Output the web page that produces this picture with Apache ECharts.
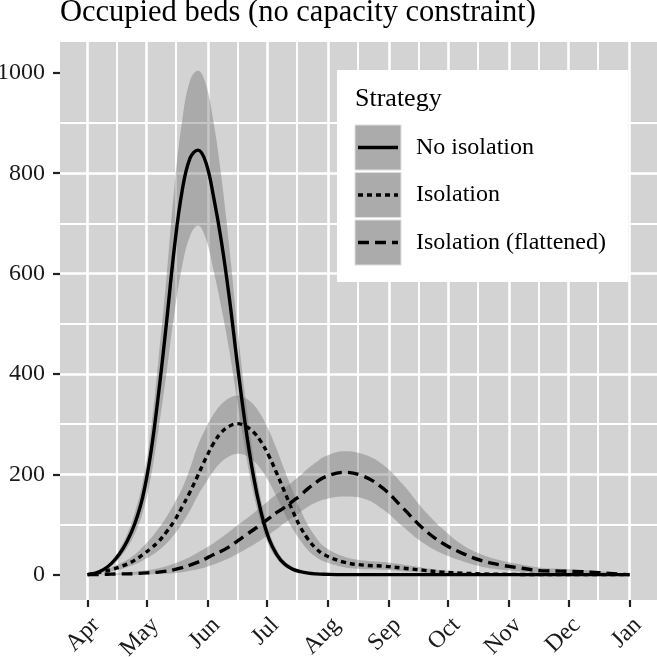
<!DOCTYPE html>
<html>
<head>
<meta charset="utf-8">
<title>Occupied beds</title>
<script src="https://cdn.jsdelivr.net/npm/echarts@6/dist/echarts.min.js"></script>
<style>
  html, body { margin: 0; padding: 0; background: #fff; }
  #chart { width: 657px; height: 657px; }
</style>
</head>
<body>
<div id="chart"></div>
<script>
// days since 1 April 2020
const days = [0, 4, 8, 12, 16, 20, 24, 28, 32, 36, 40, 44, 48, 52, 56, 60, 64, 68, 72, 76,
  80, 84, 88, 92, 96, 100, 104, 108, 112, 116, 120,
  130, 140, 150, 160, 170, 180, 190, 200, 210, 220, 230, 240, 250, 260, 270, 275];

// No isolation
const noIsoMean = [0, 3, 10, 22, 40, 66, 102, 155, 240, 360, 500, 650, 765, 830, 846, 822, 752, 662, 550, 420,
  300, 200, 125, 72, 40, 21, 11, 6, 3, 1.5, 0.8,
  0, 0, 0, 0, 0, 0, 0, 0, 0, 0, 0, 0, 0, 0, 0, 0];
const noIsoLow = [0, 2, 8, 17, 32, 53, 82, 124, 192, 290, 400, 520, 615, 675, 696, 670, 605, 530, 445, 345,
  248, 165, 103, 58, 32, 16, 9, 4, 2, 1, 0.5,
  0, 0, 0, 0, 0, 0, 0, 0, 0, 0, 0, 0, 0, 0, 0, 0];
const noIsoHigh = [0, 4, 12, 26, 49, 80, 124, 185, 285, 430, 590, 770, 905, 985, 1004, 978, 900, 790, 650, 495,
  355, 240, 150, 88, 50, 27, 15, 8, 4, 2, 1,
  0, 0, 0, 0, 0, 0, 0, 0, 0, 0, 0, 0, 0, 0, 0, 0];

// Isolation
const isoMean = [0, 3, 6, 10, 15, 21, 29, 40, 52, 66, 85, 107, 135, 165, 198, 232, 262, 284, 296, 301,
  296, 285, 265, 237, 202, 165, 128, 95, 70, 52, 40,
  25, 19, 17, 13, 9, 5, 3, 1.5, 0.8, 0.4, 0.2, 0, 0, 0, 0, 0];
const isoLow = [0, 2, 4, 7, 10, 15, 20, 28, 37, 48, 62, 80, 102, 128, 158, 183, 207, 225, 236, 241,
  238, 228, 210, 185, 155, 122, 92, 68, 48, 35, 26,
  15, 11, 10, 7, 4, 2, 1, 0.5, 0, 0, 0, 0, 0, 0, 0, 0];
const isoHigh = [0, 4, 8, 14, 21, 29, 40, 55, 72, 92, 115, 142, 172, 212, 258, 292, 320, 340, 352, 357,
  352, 340, 318, 288, 250, 208, 168, 130, 98, 74, 56,
  36, 28, 25, 20, 14, 9, 5, 3, 1.5, 1, 0.5, 0, 0, 0, 0, 0];

// Isolation (flattened)
const flatMean = [0, 0, 0.5, 1, 1.5, 1.5, 2, 3, 4, 5, 7, 10, 14, 19, 25, 32, 40, 47, 56, 67,
  78, 89, 100, 112, 124, 134, 146, 158, 172, 184, 194,
  204, 196, 172, 133, 93, 63, 43, 28, 19, 13, 8, 7, 6, 4, 1, 0];
const flatLow = [0, 0, 0, 0, 0, 0, 0, 0.5, 1, 1.5, 2, 3, 5, 8, 11, 15, 20, 26, 33, 41,
  50, 59, 69, 80, 91, 103, 114, 125, 136, 144, 150,
  156, 152, 130, 96, 64, 42, 27, 16, 10, 6, 3, 2, 2, 1, 0, 0];
const flatHigh = [0, 0.5, 1, 2, 3, 4, 6, 8, 10, 13, 17, 22, 28, 35, 44, 53, 63, 74, 86, 98,
  110, 122, 135, 148, 160, 172, 185, 198, 212, 224, 235,
  246, 240, 219, 180, 132, 92, 60, 40, 28, 20, 14, 12, 10, 7, 2, 0];

const strategies = ['No isolation', 'Isolation', 'Isolation (flattened)'];
const monthLabels = ['Jan', 'Feb', 'Mar', 'Apr', 'May', 'Jun', 'Jul', 'Aug', 'Sep', 'Oct', 'Nov', 'Dec'];
const yTicks = [0, 200, 400, 600, 800, 1000];

const font = '"Liberation Serif", "Times New Roman", "DejaVu Serif", serif';
const bandColor = '#6e6e6e';
const dashes = ['solid', [5, 4], [11, 6]];

// one category per day, 18 Mar 2020 .. 15 Jan 2021 (padding round Apr..Jan)
const firstDay = Date.UTC(2020, 2, 18);
const categories = [];
for (let i = 0; i < 304; i++) {
  categories.push(new Date(firstDay + i * 864e5).toISOString().slice(0, 10));
}
const offset = 14; // index of 1 Apr
const pairs = vals => days.map((d, i) => [categories[offset + d], vals[i]]);

const isMonthStart = (i, v) => v.slice(8) === '01';
const isMidMonth = (i, v) => v.slice(8) === '16';

const groups = [
  [noIsoMean, noIsoLow, noIsoHigh],
  [isoMean, isoLow, isoHigh],
  [flatMean, flatLow, flatHigh]
];

const series = [];
groups.forEach((g, k) => {
  const lo = g[1], hi = g[2];
  series.push({
    type: 'line', stack: 'band' + k, data: pairs(lo), symbol: 'none',
    smooth: 0.4, lineStyle: { opacity: 0 }, silent: true, z: 1
  });
  series.push({
    type: 'line', stack: 'band' + k, data: pairs(hi.map((v, i) => v - lo[i])), symbol: 'none',
    smooth: 0.4, lineStyle: { opacity: 0 }, silent: true, z: 1,
    areaStyle: { color: bandColor, opacity: 0.4 }
  });
});
groups.forEach((g, k) => {
  series.push({
    name: strategies[k], type: 'line', data: pairs(g[0]), symbol: 'none',
    smooth: 0.4, z: 3,
    lineStyle: { color: '#000', width: 3.4, type: dashes[k] }
  });
});

// legend drawn by hand: grey keys with line samples
const legend = [
  { type: 'rect', shape: { x: 337, y: 70, width: 291, height: 212 }, style: { fill: '#fff' }, z: 100 },
  { type: 'text', x: 355, y: 99, z: 101,
    style: { text: 'Strategy', fontFamily: font, fontSize: 26, fill: '#000', verticalAlign: 'middle' } }
];
strategies.forEach((name, k) => {
  const top = 125 + k * 47.5;
  legend.push({ type: 'rect', shape: { x: 355, y: top, width: 46, height: 45 },
    style: { fill: '#ababab', stroke: '#dedede', lineWidth: 1 }, z: 101 });
  legend.push({ type: 'line', shape: { x1: 358, y1: top + 22.5, x2: 398, y2: top + 22.5 },
    style: { stroke: '#000', lineWidth: 3.4, lineDash: dashes[k] === 'solid' ? null : dashes[k] }, z: 102 });
  legend.push({ type: 'text', x: 416, y: top + 22.5, z: 102,
    style: { text: name, fontFamily: font, fontSize: 24, fill: '#000', verticalAlign: 'middle' } });
});

const hiddenLine = { show: true, onZero: false, lineStyle: { color: 'rgba(0,0,0,0)', width: 0 } };

const chart = echarts.init(document.getElementById('chart'), null, { renderer: 'canvas' });
chart.setOption({
  animation: false,
  backgroundColor: '#fff',
  title: {
    text: 'Occupied beds (no capacity constraint)',
    left: 60, top: 1, padding: 0,
    textStyle: { fontFamily: font, fontSize: 30.5, lineHeight: 24, fontWeight: 'normal', color: '#000' }
  },
  grid: {
    left: 60, right: 0, top: 42, bottom: 57,
    outerBoundsMode: 'none',
    show: true, backgroundColor: '#d3d3d3', borderWidth: 0
  },
  xAxis: [{
    type: 'category', data: categories, boundaryGap: false,
    axisLine: hiddenLine,
    axisTick: { show: true, length: 7, interval: isMonthStart, lineStyle: { color: '#222', width: 2.2 } },
    axisLabel: {
      interval: isMonthStart,
      formatter: v => monthLabels[+v.slice(5, 7) - 1],
      rotate: 45, align: 'right', verticalAlign: 'top', margin: 13,
      fontFamily: font, fontSize: 24, color: '#1a1a1a'
    },
    splitLine: { show: true, interval: isMonthStart, lineStyle: { color: '#fff', width: 2.6 } }
  }, {
    type: 'category', data: categories, boundaryGap: false,
    axisLine: { show: false }, axisTick: { show: false }, axisLabel: { show: false },
    splitLine: { show: true, interval: isMidMonth, lineStyle: { color: '#fff', width: 1.9 } }
  }],
  yAxis: {
    type: 'value', min: -50.5, max: 1061.5, splitNumber: 5,
    axisLine: hiddenLine,
    axisTick: { show: true, length: 7, customValues: yTicks, lineStyle: { color: '#222', width: 2.2 } },
    axisLabel: {
      customValues: yTicks, formatter: v => String(v),
      margin: 15, fontFamily: font, fontSize: 24, color: '#1a1a1a'
    },
    splitLine: { show: true, showMinLine: false, showMaxLine: false,
      lineStyle: { color: '#fff', width: 2.6 } },
    minorTick: { show: false, splitNumber: 2 },
    minorSplitLine: { show: true, lineStyle: { color: '#fff', width: 1.9 } }
  },
  graphic: legend,
  series: series
});
</script>
</body>
</html>
